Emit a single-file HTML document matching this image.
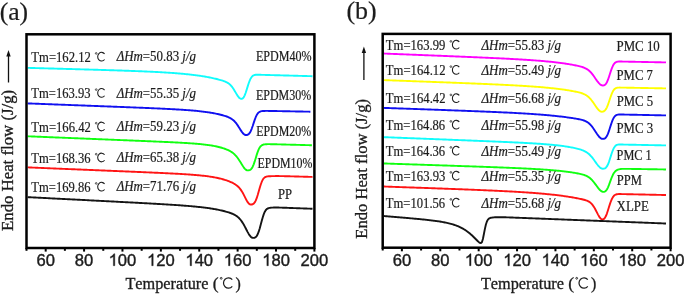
<!DOCTYPE html>
<html><head><meta charset="utf-8"><style>
html,body{margin:0;padding:0;background:#fff;}
body{width:685px;height:294px;overflow:hidden;}
svg{display:block;will-change:transform;}
text{font-family:"Liberation Serif",serif;fill:#1c1c1c;stroke:#1c1c1c;stroke-width:0.2px;font-kerning:none;}
text.t{stroke-width:0.32px;}
text.a{font-family:"Liberation Sans",sans-serif;stroke-width:0.4px;}
</style></head><body>
<svg width="685" height="294" viewBox="0 0 685 294" xmlns="http://www.w3.org/2000/svg">
<rect width="685" height="294" fill="#fff"/>

<text x="-0.33" y="20.10" style="font-size:24.50px" textLength="28.45" lengthAdjust="spacingAndGlyphs">(a)</text>
<path d="M27.7,67.87L28.7,67.89L29.7,67.92L30.7,67.95L31.7,67.97L32.7,68.00L33.7,68.03L34.7,68.06L35.7,68.08L36.7,68.11L37.7,68.14L38.7,68.16L39.7,68.19L40.7,68.22L41.7,68.25L42.7,68.27L43.7,68.30L44.7,68.33L45.7,68.36L46.7,68.38L47.7,68.41L48.7,68.44L49.7,68.46L50.7,68.49L51.7,68.52L52.7,68.55L53.7,68.57L54.7,68.60L55.7,68.63L56.7,68.66L57.7,68.68L58.7,68.71L59.7,68.74L60.7,68.77L61.7,68.79L62.7,68.82L63.7,68.85L64.7,68.88L65.7,68.90L66.7,68.93L67.7,68.96L68.7,68.99L69.7,69.02L70.7,69.04L71.7,69.07L72.7,69.10L73.7,69.13L74.7,69.16L75.7,69.18L76.7,69.21L77.7,69.24L78.7,69.27L79.7,69.30L80.7,69.33L81.7,69.35L82.7,69.38L83.7,69.41L84.7,69.44L85.7,69.47L86.7,69.50L87.7,69.53L88.7,69.55L89.7,69.58L90.7,69.61L91.7,69.64L92.7,69.67L93.7,69.70L94.7,69.73L95.7,69.76L96.7,69.79L97.7,69.82L98.7,69.85L99.7,69.88L100.7,69.91L101.7,69.94L102.7,69.97L103.7,70.00L104.7,70.03L105.7,70.06L106.7,70.09L107.7,70.12L108.7,70.15L109.7,70.18L110.7,70.22L111.7,70.25L112.7,70.28L113.7,70.31L114.7,70.34L115.7,70.38L116.7,70.41L117.7,70.44L118.7,70.47L119.7,70.51L120.7,70.54L121.7,70.57L122.7,70.61L123.7,70.64L124.7,70.68L125.7,70.71L126.7,70.75L127.7,70.78L128.7,70.82L129.7,70.85L130.7,70.89L131.7,70.93L132.7,70.96L133.7,71.00L134.7,71.04L135.7,71.08L136.7,71.12L137.7,71.16L138.7,71.20L139.7,71.24L140.7,71.28L141.7,71.32L142.7,71.36L143.7,71.40L144.7,71.44L145.7,71.49L146.7,71.53L147.7,71.58L148.7,71.62L149.7,71.67L150.7,71.71L151.7,71.76L152.7,71.81L153.7,71.86L154.7,71.91L155.7,71.96L156.7,72.01L157.7,72.06L158.7,72.12L159.7,72.17L160.7,72.23L161.7,72.28L162.7,72.34L163.7,72.40L164.7,72.46L165.7,72.52L166.7,72.58L167.7,72.65L168.7,72.71L169.7,72.78L170.7,72.84L171.7,72.91L172.7,72.99L173.7,73.06L174.7,73.13L175.7,73.21L176.7,73.29L177.7,73.37L178.7,73.45L179.7,73.53L180.7,73.62L181.7,73.71L182.7,73.80L183.7,73.89L184.7,73.98L185.7,74.08L186.7,74.18L187.7,74.28L188.7,74.39L189.7,74.50L190.7,74.61L191.7,74.73L192.7,74.84L193.7,74.97L194.7,75.09L195.7,75.22L196.7,75.35L197.7,75.49L198.7,75.63L199.7,75.77L200.7,75.92L201.7,76.07L202.7,76.23L203.7,76.40L204.7,76.56L205.7,76.74L206.7,76.91L207.7,77.10L208.7,77.29L209.7,77.48L210.7,77.68L211.7,77.89L212.7,78.11L213.7,78.33L214.7,78.56L215.7,78.79L216.7,79.03L217.7,79.29L218.7,79.55L219.7,79.81L220.7,80.09L221.7,80.39L222.7,80.70L223.7,81.04L224.7,81.40L225.7,81.82L226.7,82.29L227.7,82.85L228.7,83.52L229.7,84.32L230.7,85.28L231.7,86.43L232.7,87.75L233.7,89.25L234.7,90.89L235.7,92.61L236.7,94.32L237.7,95.91L238.7,97.26L239.7,98.25L240.7,98.78L241.7,98.84L242.7,98.42L243.7,97.27L244.7,95.34L245.7,92.73L246.7,89.64L247.7,86.39L248.7,83.28L249.7,80.59L250.7,78.45L251.7,76.91L252.7,75.89L253.7,75.28L254.7,74.95L255.7,74.80L256.7,74.75L257.7,74.74L258.7,74.76L259.7,74.78L260.7,74.80L261.7,74.83L262.7,74.86L263.7,74.89L264.7,74.91L265.7,74.94L266.7,74.97L267.7,74.99L268.7,75.02L269.7,75.05L270.7,75.08L271.7,75.10L272.7,75.13L273.7,75.16L274.7,75.18L275.7,75.21L276.7,75.24L277.7,75.27L278.7,75.29L279.7,75.32L280.7,75.35L281.7,75.37L282.7,75.40L283.7,75.43L284.7,75.46L285.7,75.48L286.7,75.51L287.7,75.54L288.7,75.56L289.7,75.59L290.7,75.62L291.7,75.65L292.7,75.67L293.7,75.70L294.7,75.73L295.7,75.75L296.7,75.78L297.7,75.81L298.7,75.84L299.7,75.86L300.7,75.89L301.7,75.92L302.7,75.94L303.7,75.97L304.7,76.00L305.7,76.03L306.7,76.05L307.7,76.08L308.7,76.11L309.7,76.13L310.7,76.16L311.7,76.19L312.5,76.21" fill="none" stroke="#10fcfc" stroke-width="1.90" stroke-linejoin="round"/>
<path d="M27.7,103.41L28.7,103.45L29.7,103.48L30.7,103.52L31.7,103.56L32.7,103.60L33.7,103.64L34.7,103.67L35.7,103.71L36.7,103.75L37.7,103.79L38.7,103.82L39.7,103.86L40.7,103.90L41.7,103.94L42.7,103.98L43.7,104.01L44.7,104.05L45.7,104.09L46.7,104.13L47.7,104.17L48.7,104.20L49.7,104.24L50.7,104.28L51.7,104.32L52.7,104.35L53.7,104.39L54.7,104.43L55.7,104.47L56.7,104.51L57.7,104.54L58.7,104.58L59.7,104.62L60.7,104.66L61.7,104.70L62.7,104.73L63.7,104.77L64.7,104.81L65.7,104.85L66.7,104.89L67.7,104.92L68.7,104.96L69.7,105.00L70.7,105.04L71.7,105.08L72.7,105.11L73.7,105.15L74.7,105.19L75.7,105.23L76.7,105.27L77.7,105.30L78.7,105.34L79.7,105.38L80.7,105.42L81.7,105.45L82.7,105.49L83.7,105.53L84.7,105.57L85.7,105.61L86.7,105.64L87.7,105.68L88.7,105.72L89.7,105.76L90.7,105.80L91.7,105.84L92.7,105.87L93.7,105.91L94.7,105.95L95.7,105.99L96.7,106.03L97.7,106.06L98.7,106.10L99.7,106.14L100.7,106.18L101.7,106.22L102.7,106.25L103.7,106.29L104.7,106.33L105.7,106.37L106.7,106.41L107.7,106.45L108.7,106.48L109.7,106.52L110.7,106.56L111.7,106.60L112.7,106.64L113.7,106.68L114.7,106.72L115.7,106.75L116.7,106.79L117.7,106.83L118.7,106.87L119.7,106.91L120.7,106.95L121.7,106.99L122.7,107.03L123.7,107.07L124.7,107.10L125.7,107.14L126.7,107.18L127.7,107.22L128.7,107.26L129.7,107.30L130.7,107.34L131.7,107.38L132.7,107.42L133.7,107.46L134.7,107.50L135.7,107.54L136.7,107.58L137.7,107.62L138.7,107.66L139.7,107.70L140.7,107.74L141.7,107.78L142.7,107.82L143.7,107.87L144.7,107.91L145.7,107.95L146.7,107.99L147.7,108.03L148.7,108.07L149.7,108.12L150.7,108.16L151.7,108.20L152.7,108.25L153.7,108.29L154.7,108.33L155.7,108.38L156.7,108.42L157.7,108.47L158.7,108.51L159.7,108.56L160.7,108.61L161.7,108.65L162.7,108.70L163.7,108.75L164.7,108.80L165.7,108.84L166.7,108.89L167.7,108.94L168.7,109.00L169.7,109.05L170.7,109.10L171.7,109.15L172.7,109.21L173.7,109.26L174.7,109.32L175.7,109.37L176.7,109.43L177.7,109.49L178.7,109.55L179.7,109.61L180.7,109.67L181.7,109.74L182.7,109.80L183.7,109.87L184.7,109.94L185.7,110.01L186.7,110.08L187.7,110.15L188.7,110.23L189.7,110.31L190.7,110.39L191.7,110.47L192.7,110.55L193.7,110.64L194.7,110.73L195.7,110.82L196.7,110.92L197.7,111.02L198.7,111.12L199.7,111.23L200.7,111.34L201.7,111.45L202.7,111.57L203.7,111.69L204.7,111.82L205.7,111.95L206.7,112.09L207.7,112.23L208.7,112.38L209.7,112.53L210.7,112.69L211.7,112.86L212.7,113.03L213.7,113.21L214.7,113.40L215.7,113.60L216.7,113.81L217.7,114.02L218.7,114.25L219.7,114.48L220.7,114.73L221.7,114.98L222.7,115.26L223.7,115.54L224.7,115.84L225.7,116.16L226.7,116.51L227.7,116.89L228.7,117.31L229.7,117.78L230.7,118.32L231.7,118.94L232.7,119.67L233.7,120.52L234.7,121.51L235.7,122.66L236.7,123.95L237.7,125.38L238.7,126.92L239.7,128.53L240.7,130.13L241.7,131.64L242.7,132.98L243.7,134.03L244.7,134.72L245.7,134.95L246.7,134.95L247.7,134.74L248.7,134.13L249.7,132.98L250.7,131.20L251.7,128.81L252.7,125.95L253.7,122.87L254.7,119.87L255.7,117.21L256.7,115.08L257.7,113.51L258.7,112.46L259.7,111.80L260.7,111.40L261.7,111.18L262.7,111.05L263.7,110.98L264.7,110.94L265.7,110.92L266.7,110.92L267.7,110.92L268.7,110.93L269.7,110.95L270.7,110.96L271.7,110.98L272.7,111.00L273.7,111.02L274.7,111.03L275.7,111.05L276.7,111.07L277.7,111.09L278.7,111.11L279.7,111.13L280.7,111.15L281.7,111.16L282.7,111.18L283.7,111.20L284.7,111.22L285.7,111.24L286.7,111.26L287.7,111.28L288.7,111.30L289.7,111.32L290.7,111.33L291.7,111.35L292.7,111.37L293.7,111.39L294.7,111.41L295.7,111.43L296.7,111.45L297.7,111.47L298.7,111.48L299.7,111.50L300.7,111.52L301.7,111.54L302.7,111.56L303.7,111.58L304.7,111.60L305.7,111.62L306.7,111.63L307.7,111.65L308.7,111.67L309.7,111.69L310.4,111.70" fill="none" stroke="#1010f0" stroke-width="1.90" stroke-linejoin="round"/>
<path d="M27.7,136.29L28.7,136.33L29.7,136.37L30.7,136.41L31.7,136.45L32.7,136.49L33.7,136.53L34.7,136.57L35.7,136.61L36.7,136.65L37.7,136.70L38.7,136.74L39.7,136.78L40.7,136.82L41.7,136.86L42.7,136.90L43.7,136.94L44.7,136.98L45.7,137.02L46.7,137.06L47.7,137.10L48.7,137.14L49.7,137.18L50.7,137.22L51.7,137.27L52.7,137.31L53.7,137.35L54.7,137.39L55.7,137.43L56.7,137.47L57.7,137.51L58.7,137.55L59.7,137.59L60.7,137.63L61.7,137.67L62.7,137.71L63.7,137.75L64.7,137.79L65.7,137.84L66.7,137.88L67.7,137.92L68.7,137.96L69.7,138.00L70.7,138.04L71.7,138.08L72.7,138.12L73.7,138.16L74.7,138.20L75.7,138.24L76.7,138.28L77.7,138.32L78.7,138.36L79.7,138.41L80.7,138.45L81.7,138.49L82.7,138.53L83.7,138.57L84.7,138.61L85.7,138.65L86.7,138.69L87.7,138.73L88.7,138.77L89.7,138.81L90.7,138.85L91.7,138.89L92.7,138.94L93.7,138.98L94.7,139.02L95.7,139.06L96.7,139.10L97.7,139.14L98.7,139.18L99.7,139.22L100.7,139.26L101.7,139.30L102.7,139.34L103.7,139.38L104.7,139.42L105.7,139.46L106.7,139.51L107.7,139.55L108.7,139.59L109.7,139.63L110.7,139.67L111.7,139.71L112.7,139.75L113.7,139.79L114.7,139.83L115.7,139.87L116.7,139.91L117.7,139.95L118.7,140.00L119.7,140.04L120.7,140.08L121.7,140.12L122.7,140.16L123.7,140.20L124.7,140.24L125.7,140.28L126.7,140.32L127.7,140.36L128.7,140.41L129.7,140.45L130.7,140.49L131.7,140.53L132.7,140.57L133.7,140.61L134.7,140.65L135.7,140.69L136.7,140.74L137.7,140.78L138.7,140.82L139.7,140.86L140.7,140.90L141.7,140.94L142.7,140.98L143.7,141.03L144.7,141.07L145.7,141.11L146.7,141.15L147.7,141.19L148.7,141.24L149.7,141.28L150.7,141.32L151.7,141.36L152.7,141.41L153.7,141.45L154.7,141.49L155.7,141.53L156.7,141.58L157.7,141.62L158.7,141.66L159.7,141.71L160.7,141.75L161.7,141.80L162.7,141.84L163.7,141.89L164.7,141.93L165.7,141.98L166.7,142.02L167.7,142.07L168.7,142.12L169.7,142.16L170.7,142.21L171.7,142.26L172.7,142.31L173.7,142.36L174.7,142.40L175.7,142.46L176.7,142.51L177.7,142.56L178.7,142.61L179.7,142.66L180.7,142.72L181.7,142.77L182.7,142.83L183.7,142.89L184.7,142.95L185.7,143.01L186.7,143.07L187.7,143.13L188.7,143.20L189.7,143.26L190.7,143.33L191.7,143.40L192.7,143.47L193.7,143.55L194.7,143.63L195.7,143.71L196.7,143.79L197.7,143.88L198.7,143.97L199.7,144.06L200.7,144.15L201.7,144.26L202.7,144.36L203.7,144.47L204.7,144.58L205.7,144.71L206.7,144.83L207.7,144.96L208.7,145.10L209.7,145.25L210.7,145.40L211.7,145.56L212.7,145.73L213.7,145.91L214.7,146.10L215.7,146.30L216.7,146.51L217.7,146.74L218.7,146.98L219.7,147.23L220.7,147.50L221.7,147.78L222.7,148.08L223.7,148.40L224.7,148.74L225.7,149.11L226.7,149.51L227.7,149.93L228.7,150.40L229.7,150.91L230.7,151.48L231.7,152.11L232.7,152.82L233.7,153.63L234.7,154.54L235.7,155.58L236.7,156.74L237.7,158.03L238.7,159.45L239.7,160.97L240.7,162.57L241.7,164.20L242.7,165.81L243.7,167.31L244.7,168.61L245.7,169.61L246.7,170.19L247.7,170.33L248.7,170.31L249.7,170.10L250.7,169.53L251.7,168.43L252.7,166.70L253.7,164.33L254.7,161.41L255.7,158.17L256.7,154.89L257.7,151.89L258.7,149.40L259.7,147.51L260.7,146.20L261.7,145.36L262.7,144.84L263.7,144.53L264.7,144.35L265.7,144.24L266.7,144.19L267.7,144.16L268.7,144.16L269.7,144.16L270.7,144.18L271.7,144.20L272.7,144.22L273.7,144.24L274.7,144.27L275.7,144.29L276.7,144.32L277.7,144.34L278.7,144.37L279.7,144.39L280.7,144.42L281.7,144.45L282.7,144.47L283.7,144.50L284.7,144.53L285.7,144.55L286.7,144.58L287.7,144.61L288.7,144.63L289.7,144.66L290.7,144.68L291.7,144.71L292.7,144.74L293.7,144.76L294.7,144.79L295.7,144.82L296.7,144.84L297.7,144.87L298.7,144.90L299.7,144.92L300.7,144.95L301.7,144.97L302.7,145.00L303.7,145.03L304.7,145.05L305.7,145.08L306.7,145.11L307.7,145.13L308.7,145.16L309.7,145.19L310.7,145.21L311.7,145.24L311.9,145.24" fill="none" stroke="#10ff10" stroke-width="1.90" stroke-linejoin="round"/>
<path d="M27.7,167.38L28.7,167.42L29.7,167.46L30.7,167.51L31.7,167.55L32.7,167.59L33.7,167.63L34.7,167.67L35.7,167.71L36.7,167.75L37.7,167.79L38.7,167.84L39.7,167.88L40.7,167.92L41.7,167.96L42.7,168.00L43.7,168.04L44.7,168.08L45.7,168.13L46.7,168.17L47.7,168.21L48.7,168.25L49.7,168.29L50.7,168.33L51.7,168.37L52.7,168.41L53.7,168.46L54.7,168.50L55.7,168.54L56.7,168.58L57.7,168.62L58.7,168.66L59.7,168.70L60.7,168.75L61.7,168.79L62.7,168.83L63.7,168.87L64.7,168.91L65.7,168.95L66.7,168.99L67.7,169.03L68.7,169.08L69.7,169.12L70.7,169.16L71.7,169.20L72.7,169.24L73.7,169.28L74.7,169.32L75.7,169.37L76.7,169.41L77.7,169.45L78.7,169.49L79.7,169.53L80.7,169.57L81.7,169.61L82.7,169.66L83.7,169.70L84.7,169.74L85.7,169.78L86.7,169.82L87.7,169.86L88.7,169.90L89.7,169.94L90.7,169.99L91.7,170.03L92.7,170.07L93.7,170.11L94.7,170.15L95.7,170.19L96.7,170.23L97.7,170.28L98.7,170.32L99.7,170.36L100.7,170.40L101.7,170.44L102.7,170.48L103.7,170.52L104.7,170.57L105.7,170.61L106.7,170.65L107.7,170.69L108.7,170.73L109.7,170.77L110.7,170.81L111.7,170.86L112.7,170.90L113.7,170.94L114.7,170.98L115.7,171.02L116.7,171.06L117.7,171.11L118.7,171.15L119.7,171.19L120.7,171.23L121.7,171.27L122.7,171.31L123.7,171.36L124.7,171.40L125.7,171.44L126.7,171.48L127.7,171.52L128.7,171.57L129.7,171.61L130.7,171.65L131.7,171.69L132.7,171.73L133.7,171.78L134.7,171.82L135.7,171.86L136.7,171.90L137.7,171.94L138.7,171.99L139.7,172.03L140.7,172.07L141.7,172.12L142.7,172.16L143.7,172.20L144.7,172.24L145.7,172.29L146.7,172.33L147.7,172.37L148.7,172.42L149.7,172.46L150.7,172.50L151.7,172.55L152.7,172.59L153.7,172.64L154.7,172.68L155.7,172.73L156.7,172.77L157.7,172.82L158.7,172.86L159.7,172.91L160.7,172.95L161.7,173.00L162.7,173.05L163.7,173.09L164.7,173.14L165.7,173.19L166.7,173.24L167.7,173.28L168.7,173.33L169.7,173.38L170.7,173.43L171.7,173.48L172.7,173.53L173.7,173.59L174.7,173.64L175.7,173.69L176.7,173.75L177.7,173.80L178.7,173.86L179.7,173.91L180.7,173.97L181.7,174.03L182.7,174.09L183.7,174.15L184.7,174.21L185.7,174.28L186.7,174.34L187.7,174.41L188.7,174.48L189.7,174.55L190.7,174.62L191.7,174.69L192.7,174.77L193.7,174.85L194.7,174.93L195.7,175.01L196.7,175.10L197.7,175.19L198.7,175.28L199.7,175.38L200.7,175.48L201.7,175.58L202.7,175.69L203.7,175.80L204.7,175.91L205.7,176.03L206.7,176.16L207.7,176.29L208.7,176.43L209.7,176.57L210.7,176.72L211.7,176.88L212.7,177.04L213.7,177.22L214.7,177.40L215.7,177.59L216.7,177.79L217.7,178.00L218.7,178.22L219.7,178.45L220.7,178.69L221.7,178.95L222.7,179.22L223.7,179.51L224.7,179.81L225.7,180.13L226.7,180.47L227.7,180.82L228.7,181.20L229.7,181.60L230.7,182.02L231.7,182.47L232.7,182.95L233.7,183.48L234.7,184.05L235.7,184.70L236.7,185.42L237.7,186.25L238.7,187.21L239.7,188.33L240.7,189.63L241.7,191.12L242.7,192.80L243.7,194.64L244.7,196.59L245.7,198.57L246.7,200.47L247.7,202.15L248.7,203.46L249.7,204.26L250.7,204.47L251.7,204.45L252.7,204.23L253.7,203.63L254.7,202.48L255.7,200.66L256.7,198.17L257.7,195.08L258.7,191.61L259.7,188.07L260.7,184.77L261.7,181.97L262.7,179.82L263.7,178.33L264.7,177.39L265.7,176.85L266.7,176.56L267.7,176.41L268.7,176.31L269.7,176.25L270.7,176.20L271.7,176.15L272.7,176.12L273.7,176.10L274.7,176.08L275.7,176.07L276.7,176.06L277.7,176.07L278.7,176.07L279.7,176.08L280.7,176.10L281.7,176.11L282.7,176.13L283.7,176.15L284.7,176.18L285.7,176.20L286.7,176.23L287.7,176.25L288.7,176.28L289.7,176.30L290.7,176.33L291.7,176.36L292.7,176.38L293.7,176.41L294.7,176.44L295.7,176.47L296.7,176.50L297.7,176.52L298.7,176.55L299.7,176.58L300.7,176.61L301.7,176.64L302.7,176.66L303.7,176.69L304.7,176.72L305.7,176.75L306.7,176.78L307.7,176.81L308.7,176.83L309.7,176.86L310.7,176.89L311.7,176.92L312.5,176.94" fill="none" stroke="#ff1414" stroke-width="1.90" stroke-linejoin="round"/>
<path d="M27.7,197.15L28.7,197.20L29.7,197.25L30.7,197.30L31.7,197.35L32.7,197.40L33.7,197.46L34.7,197.51L35.7,197.56L36.7,197.61L37.7,197.66L38.7,197.71L39.7,197.76L40.7,197.81L41.7,197.87L42.7,197.92L43.7,197.97L44.7,198.02L45.7,198.07L46.7,198.12L47.7,198.17L48.7,198.22L49.7,198.28L50.7,198.33L51.7,198.38L52.7,198.43L53.7,198.48L54.7,198.53L55.7,198.58L56.7,198.63L57.7,198.69L58.7,198.74L59.7,198.79L60.7,198.84L61.7,198.89L62.7,198.94L63.7,198.99L64.7,199.04L65.7,199.10L66.7,199.15L67.7,199.20L68.7,199.25L69.7,199.30L70.7,199.35L71.7,199.40L72.7,199.45L73.7,199.51L74.7,199.56L75.7,199.61L76.7,199.66L77.7,199.71L78.7,199.76L79.7,199.81L80.7,199.87L81.7,199.92L82.7,199.97L83.7,200.02L84.7,200.07L85.7,200.12L86.7,200.17L87.7,200.22L88.7,200.28L89.7,200.33L90.7,200.38L91.7,200.43L92.7,200.48L93.7,200.53L94.7,200.58L95.7,200.64L96.7,200.69L97.7,200.74L98.7,200.79L99.7,200.84L100.7,200.89L101.7,200.95L102.7,201.00L103.7,201.05L104.7,201.10L105.7,201.15L106.7,201.20L107.7,201.25L108.7,201.31L109.7,201.36L110.7,201.41L111.7,201.46L112.7,201.51L113.7,201.57L114.7,201.62L115.7,201.67L116.7,201.72L117.7,201.77L118.7,201.83L119.7,201.88L120.7,201.93L121.7,201.98L122.7,202.03L123.7,202.09L124.7,202.14L125.7,202.19L126.7,202.24L127.7,202.30L128.7,202.35L129.7,202.40L130.7,202.45L131.7,202.51L132.7,202.56L133.7,202.61L134.7,202.66L135.7,202.72L136.7,202.77L137.7,202.82L138.7,202.88L139.7,202.93L140.7,202.99L141.7,203.04L142.7,203.09L143.7,203.15L144.7,203.20L145.7,203.26L146.7,203.31L147.7,203.37L148.7,203.42L149.7,203.48L150.7,203.53L151.7,203.59L152.7,203.64L153.7,203.70L154.7,203.76L155.7,203.81L156.7,203.87L157.7,203.93L158.7,203.98L159.7,204.04L160.7,204.10L161.7,204.16L162.7,204.22L163.7,204.28L164.7,204.34L165.7,204.40L166.7,204.46L167.7,204.52L168.7,204.58L169.7,204.65L170.7,204.71L171.7,204.77L172.7,204.84L173.7,204.90L174.7,204.97L175.7,205.04L176.7,205.10L177.7,205.17L178.7,205.24L179.7,205.31L180.7,205.38L181.7,205.46L182.7,205.53L183.7,205.61L184.7,205.68L185.7,205.76L186.7,205.84L187.7,205.92L188.7,206.00L189.7,206.09L190.7,206.17L191.7,206.26L192.7,206.35L193.7,206.44L194.7,206.54L195.7,206.63L196.7,206.73L197.7,206.83L198.7,206.94L199.7,207.04L200.7,207.15L201.7,207.27L202.7,207.38L203.7,207.50L204.7,207.63L205.7,207.75L206.7,207.88L207.7,208.02L208.7,208.16L209.7,208.31L210.7,208.46L211.7,208.61L212.7,208.77L213.7,208.94L214.7,209.11L215.7,209.30L216.7,209.48L217.7,209.68L218.7,209.88L219.7,210.09L220.7,210.31L221.7,210.53L222.7,210.77L223.7,211.02L224.7,211.28L225.7,211.55L226.7,211.83L227.7,212.12L228.7,212.44L229.7,212.77L230.7,213.12L231.7,213.50L232.7,213.91L233.7,214.37L234.7,214.88L235.7,215.46L236.7,216.12L237.7,216.89L238.7,217.78L239.7,218.81L240.7,220.00L241.7,221.36L242.7,222.88L243.7,224.56L244.7,226.38L245.7,228.28L246.7,230.22L247.7,232.12L248.7,233.89L249.7,235.45L250.7,236.69L251.7,237.51L252.7,237.84L253.7,237.86L254.7,237.71L255.7,237.17L256.7,236.07L257.7,234.27L258.7,231.71L259.7,228.49L260.7,224.81L261.7,221.00L262.7,217.42L263.7,214.34L264.7,211.95L265.7,210.26L266.7,209.16L267.7,208.49L268.7,208.10L269.7,207.87L270.7,207.73L271.7,207.64L272.7,207.58L273.7,207.54L274.7,207.52L275.7,207.52L276.7,207.53L277.7,207.54L278.7,207.56L279.7,207.59L280.7,207.62L281.7,207.65L282.7,207.68L283.7,207.71L284.7,207.75L285.7,207.79L286.7,207.82L287.7,207.86L288.7,207.89L289.7,207.93L290.7,207.97L291.7,208.00L292.7,208.04L293.7,208.08L294.7,208.12L295.7,208.15L296.7,208.19L297.7,208.23L298.7,208.26L299.7,208.30L300.7,208.34L301.7,208.38L302.7,208.41L303.7,208.45L304.7,208.49L305.7,208.52L306.7,208.56L307.7,208.60L308.7,208.63L309.7,208.67L310.7,208.71L311.7,208.75L312.5,208.78" fill="none" stroke="#141414" stroke-width="1.90" stroke-linejoin="round"/>
<rect x="26.50" y="34.30" width="287.90" height="213.70" fill="none" stroke="#000" stroke-width="2.5"/>
<line x1="26.50" y1="248.00" x2="26.50" y2="250.80" stroke="#000" stroke-width="2"/>
<line x1="45.69" y1="248.00" x2="45.69" y2="251.60" stroke="#000" stroke-width="2"/>
<text class="a" x="36.46" y="265.70" style="font-size:16.6px">6</text><text class="a" x="45.69" y="265.70" style="font-size:16.6px">0</text>
<line x1="64.89" y1="248.00" x2="64.89" y2="250.80" stroke="#000" stroke-width="2"/>
<line x1="84.08" y1="248.00" x2="84.08" y2="251.60" stroke="#000" stroke-width="2"/>
<text class="a" x="74.85" y="265.70" style="font-size:16.6px">8</text><text class="a" x="84.08" y="265.70" style="font-size:16.6px">0</text>
<line x1="103.27" y1="248.00" x2="103.27" y2="250.80" stroke="#000" stroke-width="2"/>
<line x1="122.47" y1="248.00" x2="122.47" y2="251.60" stroke="#000" stroke-width="2"/>
<path d="M114.81,265.70 L113.35,265.70 L113.35,256.40 L112.82,256.91 L112.19,257.30 L111.30,257.82 L110.42,258.16 L110.42,256.75 L111.30,256.30 L112.11,255.73 L112.84,255.08 L113.49,254.35 L113.86,253.77 L114.81,253.77 Z" fill="#1c1c1c" stroke="#1c1c1c" stroke-width="0.4"/><text class="a" x="117.85" y="265.70" style="font-size:16.6px">0</text><text class="a" x="127.08" y="265.70" style="font-size:16.6px">0</text>
<line x1="141.66" y1="248.00" x2="141.66" y2="250.80" stroke="#000" stroke-width="2"/>
<line x1="160.85" y1="248.00" x2="160.85" y2="251.60" stroke="#000" stroke-width="2"/>
<path d="M153.19,265.70 L151.73,265.70 L151.73,256.40 L151.21,256.91 L150.58,257.30 L149.68,257.82 L148.81,258.16 L148.81,256.75 L149.68,256.30 L150.49,255.73 L151.22,255.08 L151.87,254.35 L152.25,253.77 L153.19,253.77 Z" fill="#1c1c1c" stroke="#1c1c1c" stroke-width="0.4"/><text class="a" x="156.24" y="265.70" style="font-size:16.6px">2</text><text class="a" x="165.47" y="265.70" style="font-size:16.6px">0</text>
<line x1="180.05" y1="248.00" x2="180.05" y2="250.80" stroke="#000" stroke-width="2"/>
<line x1="199.24" y1="248.00" x2="199.24" y2="251.60" stroke="#000" stroke-width="2"/>
<path d="M191.58,265.70 L190.12,265.70 L190.12,256.40 L189.59,256.91 L188.96,257.30 L188.07,257.82 L187.20,258.16 L187.20,256.75 L188.07,256.30 L188.88,255.73 L189.61,255.08 L190.26,254.35 L190.63,253.77 L191.58,253.77 Z" fill="#1c1c1c" stroke="#1c1c1c" stroke-width="0.4"/><text class="a" x="194.63" y="265.70" style="font-size:16.6px">4</text><text class="a" x="203.85" y="265.70" style="font-size:16.6px">0</text>
<line x1="218.43" y1="248.00" x2="218.43" y2="250.80" stroke="#000" stroke-width="2"/>
<line x1="237.63" y1="248.00" x2="237.63" y2="251.60" stroke="#000" stroke-width="2"/>
<path d="M229.97,265.70 L228.51,265.70 L228.51,256.40 L227.98,256.91 L227.35,257.30 L226.46,257.82 L225.58,258.16 L225.58,256.75 L226.46,256.30 L227.27,255.73 L228.00,255.08 L228.65,254.35 L229.02,253.77 L229.97,253.77 Z" fill="#1c1c1c" stroke="#1c1c1c" stroke-width="0.4"/><text class="a" x="233.01" y="265.70" style="font-size:16.6px">6</text><text class="a" x="242.24" y="265.70" style="font-size:16.6px">0</text>
<line x1="256.82" y1="248.00" x2="256.82" y2="250.80" stroke="#000" stroke-width="2"/>
<line x1="276.01" y1="248.00" x2="276.01" y2="251.60" stroke="#000" stroke-width="2"/>
<path d="M268.35,265.70 L266.89,265.70 L266.89,256.40 L266.37,256.91 L265.74,257.30 L264.84,257.82 L263.97,258.16 L263.97,256.75 L264.84,256.30 L265.65,255.73 L266.38,255.08 L267.03,254.35 L267.41,253.77 L268.35,253.77 Z" fill="#1c1c1c" stroke="#1c1c1c" stroke-width="0.4"/><text class="a" x="271.40" y="265.70" style="font-size:16.6px">8</text><text class="a" x="280.63" y="265.70" style="font-size:16.6px">0</text>
<line x1="295.21" y1="248.00" x2="295.21" y2="250.80" stroke="#000" stroke-width="2"/>
<line x1="314.40" y1="248.00" x2="314.40" y2="251.60" stroke="#000" stroke-width="2"/>
<text class="a" x="300.56" y="265.70" style="font-size:16.6px">2</text><text class="a" x="309.79" y="265.70" style="font-size:16.6px">0</text><text class="a" x="319.01" y="265.70" style="font-size:16.6px">0</text>
<text x="31.37" y="61.80" style="font-size:13.60px" textLength="59.43" lengthAdjust="spacingAndGlyphs">Tm=162.12</text>
<circle cx="96.20" cy="53.40" r="0.85" fill="none" stroke="#1c1c1c" stroke-width="0.75"/><path d="M104.58,53.90 A3.90,4.35 0 1 0 104.58,59.50" fill="none" stroke="#1c1c1c" stroke-width="1.05"/>
<text x="116.63" y="61.20" style="font-size:13.60px" textLength="79.35" lengthAdjust="spacingAndGlyphs"><tspan font-style="italic">&#916;Hm</tspan>=50.83 <tspan font-style="italic">j/g</tspan></text>
<text x="31.37" y="98.00" style="font-size:13.60px" textLength="59.22" lengthAdjust="spacingAndGlyphs">Tm=163.93</text>
<circle cx="96.20" cy="89.60" r="0.85" fill="none" stroke="#1c1c1c" stroke-width="0.75"/><path d="M104.58,90.10 A3.90,4.35 0 1 0 104.58,95.70" fill="none" stroke="#1c1c1c" stroke-width="1.05"/>
<text x="116.63" y="97.60" style="font-size:13.60px" textLength="79.35" lengthAdjust="spacingAndGlyphs"><tspan font-style="italic">&#916;Hm</tspan>=55.35 <tspan font-style="italic">j/g</tspan></text>
<text x="31.37" y="131.60" style="font-size:13.60px" textLength="59.43" lengthAdjust="spacingAndGlyphs">Tm=166.42</text>
<circle cx="96.20" cy="123.20" r="0.85" fill="none" stroke="#1c1c1c" stroke-width="0.75"/><path d="M104.58,123.70 A3.90,4.35 0 1 0 104.58,129.30" fill="none" stroke="#1c1c1c" stroke-width="1.05"/>
<text x="116.63" y="131.10" style="font-size:13.60px" textLength="79.35" lengthAdjust="spacingAndGlyphs"><tspan font-style="italic">&#916;Hm</tspan>=59.23 <tspan font-style="italic">j/g</tspan></text>
<text x="31.37" y="162.60" style="font-size:13.60px" textLength="59.10" lengthAdjust="spacingAndGlyphs">Tm=168.36</text>
<circle cx="96.20" cy="154.20" r="0.85" fill="none" stroke="#1c1c1c" stroke-width="0.75"/><path d="M104.58,154.70 A3.90,4.35 0 1 0 104.58,160.30" fill="none" stroke="#1c1c1c" stroke-width="1.05"/>
<text x="116.63" y="162.10" style="font-size:13.60px" textLength="79.35" lengthAdjust="spacingAndGlyphs"><tspan font-style="italic">&#916;Hm</tspan>=65.38 <tspan font-style="italic">j/g</tspan></text>
<text x="31.37" y="191.80" style="font-size:13.60px" textLength="59.10" lengthAdjust="spacingAndGlyphs">Tm=169.86</text>
<circle cx="96.20" cy="183.40" r="0.85" fill="none" stroke="#1c1c1c" stroke-width="0.75"/><path d="M104.58,183.90 A3.90,4.35 0 1 0 104.58,189.50" fill="none" stroke="#1c1c1c" stroke-width="1.05"/>
<text x="116.63" y="191.30" style="font-size:13.60px" textLength="79.35" lengthAdjust="spacingAndGlyphs"><tspan font-style="italic">&#916;Hm</tspan>=71.76 <tspan font-style="italic">j/g</tspan></text>
<text x="255.95" y="60.70" style="font-size:13.60px" textLength="55.66" lengthAdjust="spacingAndGlyphs">EPDM40%</text>
<text x="255.95" y="99.80" style="font-size:13.60px" textLength="55.25" lengthAdjust="spacingAndGlyphs">EPDM30%</text>
<text x="256.16" y="135.60" style="font-size:13.60px" textLength="55.05" lengthAdjust="spacingAndGlyphs">EPDM20%</text>
<text x="257.56" y="167.80" style="font-size:13.60px" textLength="54.85" lengthAdjust="spacingAndGlyphs">EPDM10%</text>
<text x="277.94" y="199.30" style="font-size:13.60px" textLength="14.07" lengthAdjust="spacingAndGlyphs">PP</text>
<text class="t" x="125.41" y="288.70" style="font-size:16.50px" textLength="83.06" lengthAdjust="spacingAndGlyphs">Temperature</text>
<text class="t" x="212.73" y="288.70" style="font-size:16.50px" textLength="5.83" lengthAdjust="spacingAndGlyphs">(</text>
<circle cx="221.20" cy="278.30" r="0.90" fill="none" stroke="#1c1c1c" stroke-width="0.90"/><path d="M232.28,279.60 A5.00,5.20 0 1 0 232.28,286.40" fill="none" stroke="#1c1c1c" stroke-width="1.20"/>
<text class="t" x="235.39" y="288.70" style="font-size:16.50px" textLength="5.32" lengthAdjust="spacingAndGlyphs">)</text>
<line x1="8.50" y1="82.50" x2="8.50" y2="54.90" stroke="#111" stroke-width="1.3"/>
<path d="M8.50,49.90 L6.30,56.40 L10.70,56.40 Z" fill="#111"/>
<text transform="translate(13.00,0) rotate(-90)" class="t" x="-230.98" y="0.00" style="font-size:16.50px" textLength="141.12" lengthAdjust="spacingAndGlyphs">Endo Heat flow (J/g)</text>
<text x="346.46" y="19.00" style="font-size:24.50px" textLength="30.28" lengthAdjust="spacingAndGlyphs">(b)</text>
<path d="M383.9,53.55L384.9,53.59L385.9,53.63L386.9,53.67L387.9,53.71L388.9,53.75L389.9,53.79L390.9,53.83L391.9,53.87L392.9,53.91L393.9,53.95L394.9,53.99L395.9,54.03L396.9,54.07L397.9,54.11L398.9,54.14L399.9,54.18L400.9,54.22L401.9,54.26L402.9,54.30L403.9,54.34L404.9,54.38L405.9,54.42L406.9,54.46L407.9,54.50L408.9,54.54L409.9,54.58L410.9,54.62L411.9,54.66L412.9,54.70L413.9,54.74L414.9,54.78L415.9,54.82L416.9,54.86L417.9,54.90L418.9,54.94L419.9,54.98L420.9,55.02L421.9,55.06L422.9,55.10L423.9,55.14L424.9,55.18L425.9,55.22L426.9,55.26L427.9,55.30L428.9,55.34L429.9,55.38L430.9,55.42L431.9,55.46L432.9,55.50L433.9,55.54L434.9,55.58L435.9,55.62L436.9,55.66L437.9,55.70L438.9,55.74L439.9,55.78L440.9,55.82L441.9,55.86L442.9,55.90L443.9,55.94L444.9,55.98L445.9,56.02L446.9,56.06L447.9,56.11L448.9,56.15L449.9,56.19L450.9,56.23L451.9,56.27L452.9,56.31L453.9,56.35L454.9,56.39L455.9,56.43L456.9,56.47L457.9,56.52L458.9,56.56L459.9,56.60L460.9,56.64L461.9,56.68L462.9,56.72L463.9,56.76L464.9,56.81L465.9,56.85L466.9,56.89L467.9,56.93L468.9,56.97L469.9,57.02L470.9,57.06L471.9,57.10L472.9,57.15L473.9,57.19L474.9,57.23L475.9,57.27L476.9,57.32L477.9,57.36L478.9,57.40L479.9,57.45L480.9,57.49L481.9,57.54L482.9,57.58L483.9,57.62L484.9,57.67L485.9,57.71L486.9,57.76L487.9,57.80L488.9,57.85L489.9,57.90L490.9,57.94L491.9,57.99L492.9,58.03L493.9,58.08L494.9,58.13L495.9,58.17L496.9,58.22L497.9,58.27L498.9,58.32L499.9,58.37L500.9,58.42L501.9,58.46L502.9,58.51L503.9,58.56L504.9,58.62L505.9,58.67L506.9,58.72L507.9,58.77L508.9,58.82L509.9,58.87L510.9,58.93L511.9,58.98L512.9,59.04L513.9,59.09L514.9,59.15L515.9,59.20L516.9,59.26L517.9,59.32L518.9,59.37L519.9,59.43L520.9,59.49L521.9,59.55L522.9,59.61L523.9,59.68L524.9,59.74L525.9,59.80L526.9,59.87L527.9,59.93L528.9,60.00L529.9,60.07L530.9,60.14L531.9,60.21L532.9,60.28L533.9,60.35L534.9,60.42L535.9,60.50L536.9,60.58L537.9,60.65L538.9,60.73L539.9,60.81L540.9,60.90L541.9,60.98L542.9,61.07L543.9,61.15L544.9,61.24L545.9,61.33L546.9,61.43L547.9,61.52L548.9,61.62L549.9,61.72L550.9,61.82L551.9,61.93L552.9,62.03L553.9,62.14L554.9,62.25L555.9,62.37L556.9,62.49L557.9,62.61L558.9,62.73L559.9,62.86L560.9,62.99L561.9,63.12L562.9,63.26L563.9,63.40L564.9,63.55L565.9,63.70L566.9,63.85L567.9,64.01L568.9,64.17L569.9,64.34L570.9,64.51L571.9,64.69L572.9,64.87L573.9,65.06L574.9,65.25L575.9,65.45L576.9,65.66L577.9,65.88L578.9,66.12L579.9,66.36L580.9,66.63L581.9,66.93L582.9,67.25L583.9,67.62L584.9,68.04L585.9,68.53L586.9,69.11L587.9,69.77L588.9,70.55L589.9,71.46L590.9,72.49L591.9,73.65L592.9,74.92L593.9,76.30L594.9,77.73L595.9,79.19L596.9,80.61L597.9,81.95L598.9,83.14L599.9,84.15L600.9,84.90L601.9,85.34L602.9,85.45L603.9,85.33L604.9,84.88L605.9,83.89L606.9,82.25L607.9,79.95L608.9,77.13L609.9,74.01L610.9,70.90L611.9,68.08L612.9,65.76L613.9,64.03L614.9,62.86L615.9,62.16L616.9,61.79L617.9,61.61L618.9,61.55L619.9,61.54L620.9,61.54L621.9,61.56L622.9,61.58L623.9,61.60L624.9,61.62L625.9,61.64L626.9,61.65L627.9,61.67L628.9,61.69L629.9,61.71L630.9,61.73L631.9,61.75L632.9,61.77L633.9,61.79L634.9,61.81L635.9,61.83L636.9,61.85L637.9,61.87L638.9,61.89L639.9,61.90L640.9,61.92L641.9,61.94L642.9,61.96L643.9,61.98L644.9,62.00L645.9,62.02L646.9,62.04L647.9,62.06L648.9,62.08L649.9,62.10L650.9,62.12L651.9,62.13L652.9,62.15L653.9,62.17L654.9,62.19L655.9,62.21L656.9,62.23L657.9,62.25L658.9,62.27L659.9,62.29L660.9,62.31L661.9,62.33L662.9,62.35L663.9,62.37L664.9,62.38L665.9,62.40L666.0,62.41" fill="none" stroke="#ff00ff" stroke-width="1.90" stroke-linejoin="round"/>
<path d="M383.9,80.10L384.9,80.14L385.9,80.18L386.9,80.22L387.9,80.25L388.9,80.29L389.9,80.33L390.9,80.36L391.9,80.40L392.9,80.44L393.9,80.47L394.9,80.51L395.9,80.55L396.9,80.59L397.9,80.62L398.9,80.66L399.9,80.70L400.9,80.73L401.9,80.77L402.9,80.81L403.9,80.84L404.9,80.88L405.9,80.92L406.9,80.96L407.9,80.99L408.9,81.03L409.9,81.07L410.9,81.10L411.9,81.14L412.9,81.18L413.9,81.22L414.9,81.25L415.9,81.29L416.9,81.33L417.9,81.37L418.9,81.40L419.9,81.44L420.9,81.48L421.9,81.51L422.9,81.55L423.9,81.59L424.9,81.63L425.9,81.66L426.9,81.70L427.9,81.74L428.9,81.78L429.9,81.81L430.9,81.85L431.9,81.89L432.9,81.93L433.9,81.97L434.9,82.00L435.9,82.04L436.9,82.08L437.9,82.12L438.9,82.15L439.9,82.19L440.9,82.23L441.9,82.27L442.9,82.31L443.9,82.34L444.9,82.38L445.9,82.42L446.9,82.46L447.9,82.50L448.9,82.54L449.9,82.57L450.9,82.61L451.9,82.65L452.9,82.69L453.9,82.73L454.9,82.77L455.9,82.81L456.9,82.85L457.9,82.88L458.9,82.92L459.9,82.96L460.9,83.00L461.9,83.04L462.9,83.08L463.9,83.12L464.9,83.16L465.9,83.20L466.9,83.24L467.9,83.28L468.9,83.32L469.9,83.36L470.9,83.40L471.9,83.44L472.9,83.48L473.9,83.52L474.9,83.56L475.9,83.60L476.9,83.65L477.9,83.69L478.9,83.73L479.9,83.77L480.9,83.81L481.9,83.85L482.9,83.90L483.9,83.94L484.9,83.98L485.9,84.02L486.9,84.07L487.9,84.11L488.9,84.16L489.9,84.20L490.9,84.24L491.9,84.29L492.9,84.33L493.9,84.38L494.9,84.42L495.9,84.47L496.9,84.51L497.9,84.56L498.9,84.61L499.9,84.65L500.9,84.70L501.9,84.75L502.9,84.80L503.9,84.85L504.9,84.90L505.9,84.95L506.9,85.00L507.9,85.05L508.9,85.10L509.9,85.15L510.9,85.20L511.9,85.25L512.9,85.31L513.9,85.36L514.9,85.41L515.9,85.47L516.9,85.53L517.9,85.58L518.9,85.64L519.9,85.70L520.9,85.76L521.9,85.82L522.9,85.88L523.9,85.94L524.9,86.00L525.9,86.06L526.9,86.13L527.9,86.19L528.9,86.26L529.9,86.33L530.9,86.39L531.9,86.46L532.9,86.54L533.9,86.61L534.9,86.68L535.9,86.76L536.9,86.83L537.9,86.91L538.9,86.99L539.9,87.07L540.9,87.15L541.9,87.24L542.9,87.32L543.9,87.41L544.9,87.50L545.9,87.59L546.9,87.68L547.9,87.78L548.9,87.88L549.9,87.98L550.9,88.08L551.9,88.18L552.9,88.29L553.9,88.40L554.9,88.51L555.9,88.63L556.9,88.75L557.9,88.87L558.9,88.99L559.9,89.12L560.9,89.25L561.9,89.38L562.9,89.52L563.9,89.66L564.9,89.81L565.9,89.96L566.9,90.11L567.9,90.27L568.9,90.43L569.9,90.60L570.9,90.77L571.9,90.95L572.9,91.13L573.9,91.32L574.9,91.51L575.9,91.72L576.9,91.93L577.9,92.16L578.9,92.40L579.9,92.66L580.9,92.94L581.9,93.26L582.9,93.61L583.9,94.02L584.9,94.50L585.9,95.05L586.9,95.70L587.9,96.46L588.9,97.33L589.9,98.34L590.9,99.47L591.9,100.72L592.9,102.08L593.9,103.52L594.9,105.00L595.9,106.47L596.9,107.89L597.9,109.17L598.9,110.26L599.9,111.08L600.9,111.58L601.9,111.71L602.9,111.59L603.9,111.24L604.9,110.49L605.9,109.20L606.9,107.33L607.9,104.90L608.9,102.05L609.9,99.02L610.9,96.07L611.9,93.45L612.9,91.33L613.9,89.77L614.9,88.73L615.9,88.11L616.9,87.79L617.9,87.64L618.9,87.58L619.9,87.57L620.9,87.58L621.9,87.60L622.9,87.62L623.9,87.63L624.9,87.65L625.9,87.67L626.9,87.69L627.9,87.71L628.9,87.72L629.9,87.74L630.9,87.76L631.9,87.78L632.9,87.80L633.9,87.81L634.9,87.83L635.9,87.85L636.9,87.87L637.9,87.89L638.9,87.90L639.9,87.92L640.9,87.94L641.9,87.96L642.9,87.98L643.9,87.99L644.9,88.01L645.9,88.03L646.9,88.05L647.9,88.07L648.9,88.08L649.9,88.10L650.9,88.12L651.9,88.14L652.9,88.16L653.9,88.17L654.9,88.19L655.9,88.21L656.9,88.23L657.9,88.25L658.9,88.26L659.9,88.28L660.9,88.30L661.9,88.32L662.9,88.34L663.9,88.36L664.9,88.37L665.9,88.39L666.0,88.39" fill="none" stroke="#ffff00" stroke-width="1.90" stroke-linejoin="round"/>
<path d="M383.9,107.90L384.9,107.93L385.9,107.97L386.9,108.00L387.9,108.04L388.9,108.07L389.9,108.11L390.9,108.14L391.9,108.18L392.9,108.21L393.9,108.25L394.9,108.29L395.9,108.32L396.9,108.36L397.9,108.39L398.9,108.43L399.9,108.46L400.9,108.50L401.9,108.53L402.9,108.57L403.9,108.60L404.9,108.64L405.9,108.67L406.9,108.71L407.9,108.74L408.9,108.78L409.9,108.81L410.9,108.85L411.9,108.89L412.9,108.92L413.9,108.96L414.9,108.99L415.9,109.03L416.9,109.06L417.9,109.10L418.9,109.13L419.9,109.17L420.9,109.21L421.9,109.24L422.9,109.28L423.9,109.31L424.9,109.35L425.9,109.38L426.9,109.42L427.9,109.46L428.9,109.49L429.9,109.53L430.9,109.56L431.9,109.60L432.9,109.63L433.9,109.67L434.9,109.71L435.9,109.74L436.9,109.78L437.9,109.81L438.9,109.85L439.9,109.89L440.9,109.92L441.9,109.96L442.9,110.00L443.9,110.03L444.9,110.07L445.9,110.11L446.9,110.14L447.9,110.18L448.9,110.22L449.9,110.25L450.9,110.29L451.9,110.33L452.9,110.36L453.9,110.40L454.9,110.44L455.9,110.47L456.9,110.51L457.9,110.55L458.9,110.59L459.9,110.62L460.9,110.66L461.9,110.70L462.9,110.74L463.9,110.77L464.9,110.81L465.9,110.85L466.9,110.89L467.9,110.93L468.9,110.97L469.9,111.00L470.9,111.04L471.9,111.08L472.9,111.12L473.9,111.16L474.9,111.20L475.9,111.24L476.9,111.28L477.9,111.32L478.9,111.36L479.9,111.40L480.9,111.44L481.9,111.48L482.9,111.52L483.9,111.56L484.9,111.60L485.9,111.64L486.9,111.68L487.9,111.73L488.9,111.77L489.9,111.81L490.9,111.85L491.9,111.89L492.9,111.94L493.9,111.98L494.9,112.02L495.9,112.07L496.9,112.11L497.9,112.16L498.9,112.20L499.9,112.25L500.9,112.29L501.9,112.34L502.9,112.38L503.9,112.43L504.9,112.48L505.9,112.53L506.9,112.57L507.9,112.62L508.9,112.67L509.9,112.72L510.9,112.77L511.9,112.82L512.9,112.87L513.9,112.92L514.9,112.98L515.9,113.03L516.9,113.08L517.9,113.14L518.9,113.19L519.9,113.25L520.9,113.30L521.9,113.36L522.9,113.42L523.9,113.48L524.9,113.54L525.9,113.60L526.9,113.66L527.9,113.72L528.9,113.78L529.9,113.85L530.9,113.91L531.9,113.98L532.9,114.05L533.9,114.11L534.9,114.18L535.9,114.25L536.9,114.33L537.9,114.40L538.9,114.47L539.9,114.55L540.9,114.63L541.9,114.71L542.9,114.79L543.9,114.87L544.9,114.95L545.9,115.04L546.9,115.12L547.9,115.21L548.9,115.30L549.9,115.40L550.9,115.49L551.9,115.59L552.9,115.69L553.9,115.79L554.9,115.89L555.9,115.99L556.9,116.10L557.9,116.21L558.9,116.32L559.9,116.44L560.9,116.56L561.9,116.68L562.9,116.80L563.9,116.92L564.9,117.05L565.9,117.18L566.9,117.32L567.9,117.45L568.9,117.59L569.9,117.74L570.9,117.88L571.9,118.03L572.9,118.18L573.9,118.34L574.9,118.50L575.9,118.67L576.9,118.84L577.9,119.02L578.9,119.21L579.9,119.42L580.9,119.64L581.9,119.89L582.9,120.18L583.9,120.50L584.9,120.89L585.9,121.35L586.9,121.89L587.9,122.54L588.9,123.31L589.9,124.21L590.9,125.25L591.9,126.43L592.9,127.74L593.9,129.17L594.9,130.67L595.9,132.21L596.9,133.74L597.9,135.18L598.9,136.48L599.9,137.56L600.9,138.36L601.9,138.82L602.9,138.92L603.9,138.82L604.9,138.43L605.9,137.54L606.9,136.04L607.9,133.89L608.9,131.17L609.9,128.08L610.9,124.91L611.9,121.94L612.9,119.43L613.9,117.50L614.9,116.16L615.9,115.33L616.9,114.87L617.9,114.65L618.9,114.56L619.9,114.53L620.9,114.53L621.9,114.54L622.9,114.56L623.9,114.57L624.9,114.59L625.9,114.61L626.9,114.62L627.9,114.64L628.9,114.66L629.9,114.68L630.9,114.70L631.9,114.71L632.9,114.73L633.9,114.75L634.9,114.77L635.9,114.79L636.9,114.81L637.9,114.83L638.9,114.85L639.9,114.87L640.9,114.89L641.9,114.91L642.9,114.93L643.9,114.95L644.9,114.97L645.9,115.00L646.9,115.02L647.9,115.04L648.9,115.06L649.9,115.08L650.9,115.10L651.9,115.12L652.9,115.14L653.9,115.16L654.9,115.18L655.9,115.21L656.9,115.23L657.9,115.25L658.9,115.27L659.9,115.29L660.9,115.31L661.9,115.33L662.9,115.35L663.9,115.38L664.9,115.40L665.9,115.42L666.0,115.42" fill="none" stroke="#1010f0" stroke-width="1.90" stroke-linejoin="round"/>
<path d="M383.9,137.15L384.9,137.18L385.9,137.22L386.9,137.26L387.9,137.30L388.9,137.34L389.9,137.38L390.9,137.42L391.9,137.46L392.9,137.50L393.9,137.54L394.9,137.58L395.9,137.61L396.9,137.65L397.9,137.69L398.9,137.73L399.9,137.77L400.9,137.81L401.9,137.85L402.9,137.89L403.9,137.93L404.9,137.97L405.9,138.01L406.9,138.05L407.9,138.08L408.9,138.12L409.9,138.16L410.9,138.20L411.9,138.24L412.9,138.28L413.9,138.32L414.9,138.36L415.9,138.40L416.9,138.44L417.9,138.48L418.9,138.51L419.9,138.55L420.9,138.59L421.9,138.63L422.9,138.67L423.9,138.71L424.9,138.75L425.9,138.79L426.9,138.83L427.9,138.87L428.9,138.91L429.9,138.95L430.9,138.99L431.9,139.02L432.9,139.06L433.9,139.10L434.9,139.14L435.9,139.18L436.9,139.22L437.9,139.26L438.9,139.30L439.9,139.34L440.9,139.38L441.9,139.42L442.9,139.46L443.9,139.50L444.9,139.53L445.9,139.57L446.9,139.61L447.9,139.65L448.9,139.69L449.9,139.73L450.9,139.77L451.9,139.81L452.9,139.85L453.9,139.89L454.9,139.93L455.9,139.97L456.9,140.01L457.9,140.05L458.9,140.09L459.9,140.13L460.9,140.17L461.9,140.21L462.9,140.25L463.9,140.29L464.9,140.32L465.9,140.36L466.9,140.40L467.9,140.44L468.9,140.48L469.9,140.52L470.9,140.56L471.9,140.60L472.9,140.64L473.9,140.68L474.9,140.72L475.9,140.76L476.9,140.80L477.9,140.84L478.9,140.89L479.9,140.93L480.9,140.97L481.9,141.01L482.9,141.05L483.9,141.09L484.9,141.13L485.9,141.17L486.9,141.21L487.9,141.25L488.9,141.29L489.9,141.33L490.9,141.38L491.9,141.42L492.9,141.46L493.9,141.50L494.9,141.54L495.9,141.58L496.9,141.63L497.9,141.67L498.9,141.71L499.9,141.75L500.9,141.80L501.9,141.84L502.9,141.88L503.9,141.93L504.9,141.97L505.9,142.02L506.9,142.06L507.9,142.11L508.9,142.15L509.9,142.20L510.9,142.24L511.9,142.29L512.9,142.33L513.9,142.38L514.9,142.43L515.9,142.47L516.9,142.52L517.9,142.57L518.9,142.62L519.9,142.67L520.9,142.72L521.9,142.77L522.9,142.82L523.9,142.87L524.9,142.93L525.9,142.98L526.9,143.03L527.9,143.09L528.9,143.14L529.9,143.20L530.9,143.26L531.9,143.32L532.9,143.37L533.9,143.44L534.9,143.50L535.9,143.56L536.9,143.62L537.9,143.69L538.9,143.76L539.9,143.82L540.9,143.89L541.9,143.96L542.9,144.04L543.9,144.11L544.9,144.19L545.9,144.27L546.9,144.35L547.9,144.43L548.9,144.52L549.9,144.60L550.9,144.69L551.9,144.79L552.9,144.88L553.9,144.98L554.9,145.08L555.9,145.19L556.9,145.30L557.9,145.41L558.9,145.53L559.9,145.65L560.9,145.77L561.9,145.90L562.9,146.03L563.9,146.17L564.9,146.32L565.9,146.47L566.9,146.62L567.9,146.78L568.9,146.95L569.9,147.13L570.9,147.31L571.9,147.50L572.9,147.69L573.9,147.90L574.9,148.12L575.9,148.34L576.9,148.58L577.9,148.84L578.9,149.11L579.9,149.40L580.9,149.71L581.9,150.05L582.9,150.43L583.9,150.86L584.9,151.34L585.9,151.89L586.9,152.52L587.9,153.24L588.9,154.06L589.9,154.99L590.9,156.04L591.9,157.20L592.9,158.46L593.9,159.80L594.9,161.20L595.9,162.61L596.9,163.99L597.9,165.28L598.9,166.43L599.9,167.40L600.9,168.14L601.9,168.60L602.9,168.73L603.9,168.64L604.9,168.37L605.9,167.69L606.9,166.45L607.9,164.55L608.9,162.03L609.9,159.04L610.9,155.85L611.9,152.76L612.9,150.05L613.9,147.91L614.9,146.40L615.9,145.45L616.9,144.92L617.9,144.66L618.9,144.56L619.9,144.53L620.9,144.54L621.9,144.55L622.9,144.57L623.9,144.59L624.9,144.61L625.9,144.63L626.9,144.65L627.9,144.67L628.9,144.69L629.9,144.71L630.9,144.73L631.9,144.75L632.9,144.76L633.9,144.78L634.9,144.80L635.9,144.82L636.9,144.84L637.9,144.86L638.9,144.88L639.9,144.90L640.9,144.92L641.9,144.94L642.9,144.96L643.9,144.98L644.9,145.00L645.9,145.02L646.9,145.04L647.9,145.06L648.9,145.08L649.9,145.10L650.9,145.12L651.9,145.14L652.9,145.15L653.9,145.17L654.9,145.19L655.9,145.21L656.9,145.23L657.9,145.25L658.9,145.27L659.9,145.29L660.9,145.31L661.9,145.33L662.9,145.35L663.9,145.37L664.9,145.39L665.9,145.41L666.0,145.41" fill="none" stroke="#10fcfc" stroke-width="1.90" stroke-linejoin="round"/>
<path d="M383.9,163.47L384.9,163.50L385.9,163.54L386.9,163.57L387.9,163.60L388.9,163.64L389.9,163.67L390.9,163.70L391.9,163.74L392.9,163.77L393.9,163.80L394.9,163.83L395.9,163.87L396.9,163.90L397.9,163.93L398.9,163.97L399.9,164.00L400.9,164.03L401.9,164.07L402.9,164.10L403.9,164.13L404.9,164.17L405.9,164.20L406.9,164.23L407.9,164.27L408.9,164.30L409.9,164.33L410.9,164.37L411.9,164.40L412.9,164.43L413.9,164.47L414.9,164.50L415.9,164.53L416.9,164.57L417.9,164.60L418.9,164.63L419.9,164.67L420.9,164.70L421.9,164.73L422.9,164.77L423.9,164.80L424.9,164.83L425.9,164.87L426.9,164.90L427.9,164.93L428.9,164.97L429.9,165.00L430.9,165.03L431.9,165.07L432.9,165.10L433.9,165.13L434.9,165.17L435.9,165.20L436.9,165.23L437.9,165.27L438.9,165.30L439.9,165.33L440.9,165.37L441.9,165.40L442.9,165.43L443.9,165.47L444.9,165.50L445.9,165.53L446.9,165.57L447.9,165.60L448.9,165.64L449.9,165.67L450.9,165.70L451.9,165.74L452.9,165.77L453.9,165.80L454.9,165.84L455.9,165.87L456.9,165.91L457.9,165.94L458.9,165.97L459.9,166.01L460.9,166.04L461.9,166.08L462.9,166.11L463.9,166.14L464.9,166.18L465.9,166.21L466.9,166.25L467.9,166.28L468.9,166.32L469.9,166.35L470.9,166.39L471.9,166.42L472.9,166.45L473.9,166.49L474.9,166.52L475.9,166.56L476.9,166.59L477.9,166.63L478.9,166.66L479.9,166.70L480.9,166.74L481.9,166.77L482.9,166.81L483.9,166.84L484.9,166.88L485.9,166.91L486.9,166.95L487.9,166.99L488.9,167.02L489.9,167.06L490.9,167.09L491.9,167.13L492.9,167.17L493.9,167.21L494.9,167.24L495.9,167.28L496.9,167.32L497.9,167.36L498.9,167.39L499.9,167.43L500.9,167.47L501.9,167.51L502.9,167.55L503.9,167.59L504.9,167.63L505.9,167.67L506.9,167.71L507.9,167.75L508.9,167.79L509.9,167.83L510.9,167.87L511.9,167.91L512.9,167.95L513.9,168.00L514.9,168.04L515.9,168.08L516.9,168.13L517.9,168.17L518.9,168.22L519.9,168.26L520.9,168.31L521.9,168.35L522.9,168.40L523.9,168.45L524.9,168.50L525.9,168.54L526.9,168.59L527.9,168.64L528.9,168.70L529.9,168.75L530.9,168.80L531.9,168.85L532.9,168.91L533.9,168.96L534.9,169.02L535.9,169.08L536.9,169.14L537.9,169.20L538.9,169.26L539.9,169.32L540.9,169.38L541.9,169.45L542.9,169.51L543.9,169.58L544.9,169.65L545.9,169.72L546.9,169.79L547.9,169.87L548.9,169.94L549.9,170.02L550.9,170.10L551.9,170.18L552.9,170.27L553.9,170.35L554.9,170.44L555.9,170.53L556.9,170.63L557.9,170.73L558.9,170.82L559.9,170.93L560.9,171.03L561.9,171.14L562.9,171.25L563.9,171.37L564.9,171.49L565.9,171.61L566.9,171.74L567.9,171.87L568.9,172.00L569.9,172.14L570.9,172.28L571.9,172.43L572.9,172.59L573.9,172.75L574.9,172.91L575.9,173.09L576.9,173.27L577.9,173.45L578.9,173.65L579.9,173.86L580.9,174.09L581.9,174.34L582.9,174.61L583.9,174.92L584.9,175.27L585.9,175.67L586.9,176.14L587.9,176.70L588.9,177.34L589.9,178.09L590.9,178.95L591.9,179.94L592.9,181.04L593.9,182.26L594.9,183.56L595.9,184.92L596.9,186.30L597.9,187.64L598.9,188.90L599.9,190.01L600.9,190.90L601.9,191.53L602.9,191.83L603.9,191.85L604.9,191.59L605.9,190.85L606.9,189.53L607.9,187.60L608.9,185.16L609.9,182.42L610.9,179.63L611.9,177.03L612.9,174.81L613.9,173.04L614.9,171.72L615.9,170.76L616.9,170.09L617.9,169.63L618.9,169.32L619.9,169.12L620.9,168.99L621.9,168.92L622.9,168.88L623.9,168.86L624.9,168.85L625.9,168.85L626.9,168.86L627.9,168.87L628.9,168.88L629.9,168.90L630.9,168.91L631.9,168.93L632.9,168.94L633.9,168.96L634.9,168.97L635.9,168.99L636.9,169.01L637.9,169.02L638.9,169.04L639.9,169.05L640.9,169.07L641.9,169.09L642.9,169.10L643.9,169.12L644.9,169.13L645.9,169.15L646.9,169.16L647.9,169.18L648.9,169.20L649.9,169.21L650.9,169.23L651.9,169.24L652.9,169.26L653.9,169.28L654.9,169.29L655.9,169.31L656.9,169.32L657.9,169.34L658.9,169.35L659.9,169.37L660.9,169.39L661.9,169.40L662.9,169.42L663.9,169.43L664.9,169.45L665.9,169.46L666.0,169.47" fill="none" stroke="#10ff10" stroke-width="1.90" stroke-linejoin="round"/>
<path d="M383.9,186.53L384.9,186.56L385.9,186.59L386.9,186.63L387.9,186.66L388.9,186.70L389.9,186.73L390.9,186.77L391.9,186.80L392.9,186.84L393.9,186.87L394.9,186.91L395.9,186.94L396.9,186.98L397.9,187.01L398.9,187.05L399.9,187.08L400.9,187.12L401.9,187.15L402.9,187.19L403.9,187.22L404.9,187.26L405.9,187.29L406.9,187.33L407.9,187.36L408.9,187.40L409.9,187.43L410.9,187.47L411.9,187.50L412.9,187.54L413.9,187.57L414.9,187.61L415.9,187.64L416.9,187.68L417.9,187.71L418.9,187.75L419.9,187.78L420.9,187.82L421.9,187.85L422.9,187.89L423.9,187.92L424.9,187.96L425.9,188.00L426.9,188.03L427.9,188.07L428.9,188.10L429.9,188.14L430.9,188.17L431.9,188.21L432.9,188.25L433.9,188.28L434.9,188.32L435.9,188.35L436.9,188.39L437.9,188.43L438.9,188.46L439.9,188.50L440.9,188.54L441.9,188.57L442.9,188.61L443.9,188.65L444.9,188.68L445.9,188.72L446.9,188.76L447.9,188.79L448.9,188.83L449.9,188.87L450.9,188.90L451.9,188.94L452.9,188.98L453.9,189.02L454.9,189.05L455.9,189.09L456.9,189.13L457.9,189.17L458.9,189.21L459.9,189.24L460.9,189.28L461.9,189.32L462.9,189.36L463.9,189.40L464.9,189.44L465.9,189.48L466.9,189.52L467.9,189.55L468.9,189.59L469.9,189.63L470.9,189.67L471.9,189.71L472.9,189.75L473.9,189.79L474.9,189.84L475.9,189.88L476.9,189.92L477.9,189.96L478.9,190.00L479.9,190.04L480.9,190.08L481.9,190.13L482.9,190.17L483.9,190.21L484.9,190.25L485.9,190.30L486.9,190.34L487.9,190.39L488.9,190.43L489.9,190.47L490.9,190.52L491.9,190.56L492.9,190.61L493.9,190.66L494.9,190.70L495.9,190.75L496.9,190.80L497.9,190.84L498.9,190.89L499.9,190.94L500.9,190.99L501.9,191.04L502.9,191.09L503.9,191.14L504.9,191.19L505.9,191.24L506.9,191.29L507.9,191.34L508.9,191.40L509.9,191.45L510.9,191.50L511.9,191.56L512.9,191.61L513.9,191.67L514.9,191.73L515.9,191.78L516.9,191.84L517.9,191.90L518.9,191.96L519.9,192.02L520.9,192.08L521.9,192.15L522.9,192.21L523.9,192.27L524.9,192.34L525.9,192.40L526.9,192.47L527.9,192.54L528.9,192.61L529.9,192.68L530.9,192.75L531.9,192.82L532.9,192.90L533.9,192.97L534.9,193.05L535.9,193.13L536.9,193.21L537.9,193.29L538.9,193.37L539.9,193.45L540.9,193.54L541.9,193.62L542.9,193.71L543.9,193.80L544.9,193.89L545.9,193.99L546.9,194.08L547.9,194.18L548.9,194.28L549.9,194.38L550.9,194.49L551.9,194.59L552.9,194.70L553.9,194.81L554.9,194.93L555.9,195.04L556.9,195.16L557.9,195.28L558.9,195.41L559.9,195.53L560.9,195.66L561.9,195.79L562.9,195.93L563.9,196.07L564.9,196.21L565.9,196.36L566.9,196.51L567.9,196.66L568.9,196.82L569.9,196.98L570.9,197.14L571.9,197.31L572.9,197.48L573.9,197.66L574.9,197.84L575.9,198.02L576.9,198.21L577.9,198.41L578.9,198.61L579.9,198.82L580.9,199.03L581.9,199.25L582.9,199.49L583.9,199.74L584.9,200.01L585.9,200.32L586.9,200.68L587.9,201.11L588.9,201.65L589.9,202.31L590.9,203.13L591.9,204.16L592.9,205.41L593.9,206.88L594.9,208.57L595.9,210.43L596.9,212.39L597.9,214.34L598.9,216.14L599.9,217.67L600.9,218.78L601.9,219.36L602.9,219.41L603.9,218.99L604.9,217.90L605.9,216.07L606.9,213.56L607.9,210.56L608.9,207.33L609.9,204.16L610.9,201.30L611.9,198.92L612.9,197.10L613.9,195.82L614.9,194.99L615.9,194.49L616.9,194.23L617.9,194.10L618.9,194.06L619.9,194.05L620.9,194.06L621.9,194.08L622.9,194.10L623.9,194.12L624.9,194.14L625.9,194.16L626.9,194.18L627.9,194.20L628.9,194.23L629.9,194.25L630.9,194.27L631.9,194.29L632.9,194.31L633.9,194.33L634.9,194.36L635.9,194.38L636.9,194.40L637.9,194.42L638.9,194.44L639.9,194.46L640.9,194.49L641.9,194.51L642.9,194.53L643.9,194.55L644.9,194.57L645.9,194.59L646.9,194.62L647.9,194.64L648.9,194.66L649.9,194.68L650.9,194.70L651.9,194.72L652.9,194.75L653.9,194.77L654.9,194.79L655.9,194.81L656.9,194.83L657.9,194.85L658.9,194.88L659.9,194.90L660.9,194.92L661.9,194.94L662.9,194.96L663.9,194.98L664.9,195.01L665.9,195.03L666.0,195.03" fill="none" stroke="#ff1414" stroke-width="1.90" stroke-linejoin="round"/>
<path d="M383.9,216.05L384.9,216.13L385.9,216.21L386.9,216.29L387.9,216.38L388.9,216.46L389.9,216.54L390.9,216.63L391.9,216.71L392.9,216.79L393.9,216.88L394.9,216.96L395.9,217.04L396.9,217.13L397.9,217.21L398.9,217.30L399.9,217.38L400.9,217.47L401.9,217.55L402.9,217.64L403.9,217.72L404.9,217.81L405.9,217.89L406.9,217.98L407.9,218.07L408.9,218.16L409.9,218.24L410.9,218.33L411.9,218.42L412.9,218.51L413.9,218.60L414.9,218.69L415.9,218.79L416.9,218.88L417.9,218.97L418.9,219.07L419.9,219.16L420.9,219.26L421.9,219.36L422.9,219.46L423.9,219.56L424.9,219.67L425.9,219.77L426.9,219.88L427.9,219.99L428.9,220.10L429.9,220.21L430.9,220.33L431.9,220.45L432.9,220.58L433.9,220.70L434.9,220.84L435.9,220.97L436.9,221.11L437.9,221.26L438.9,221.41L439.9,221.56L440.9,221.73L441.9,221.89L442.9,222.07L443.9,222.26L444.9,222.45L445.9,222.65L446.9,222.87L447.9,223.09L448.9,223.33L449.9,223.58L450.9,223.84L451.9,224.12L452.9,224.42L453.9,224.73L454.9,225.07L455.9,225.42L456.9,225.80L457.9,226.20L458.9,226.63L459.9,227.08L460.9,227.56L461.9,228.08L462.9,228.63L463.9,229.21L464.9,229.83L465.9,230.49L466.9,231.20L467.9,231.94L468.9,232.72L469.9,233.55L470.9,234.42L471.9,235.32L472.9,236.26L473.9,237.22L474.9,238.21L475.9,239.21L476.9,240.23L477.9,241.25L478.9,242.17L479.9,242.84L480.9,243.05L481.9,242.26L482.9,238.98L483.9,234.03L484.9,228.84L485.9,224.50L486.9,221.46L487.9,219.62L488.9,218.61L489.9,218.07L490.9,217.78L491.9,217.59L492.9,217.47L493.9,217.37L494.9,217.31L495.9,217.26L496.9,217.23L497.9,217.21L498.9,217.20L499.9,217.20L500.9,217.21L501.9,217.23L502.9,217.25L503.9,217.27L504.9,217.30L505.9,217.32L506.9,217.36L507.9,217.39L508.9,217.42L509.9,217.46L510.9,217.49L511.9,217.53L512.9,217.57L513.9,217.60L514.9,217.64L515.9,217.68L516.9,217.72L517.9,217.76L518.9,217.79L519.9,217.83L520.9,217.87L521.9,217.91L522.9,217.95L523.9,217.99L524.9,218.03L525.9,218.06L526.9,218.10L527.9,218.14L528.9,218.18L529.9,218.22L530.9,218.26L531.9,218.30L532.9,218.34L533.9,218.38L534.9,218.41L535.9,218.45L536.9,218.49L537.9,218.53L538.9,218.57L539.9,218.61L540.9,218.65L541.9,218.69L542.9,218.73L543.9,218.76L544.9,218.80L545.9,218.84L546.9,218.88L547.9,218.92L548.9,218.96L549.9,219.00L550.9,219.04L551.9,219.08L552.9,219.11L553.9,219.15L554.9,219.19L555.9,219.23L556.9,219.27L557.9,219.31L558.9,219.35L559.9,219.39L560.9,219.42L561.9,219.46L562.9,219.50L563.9,219.54L564.9,219.58L565.9,219.62L566.9,219.66L567.9,219.70L568.9,219.74L569.9,219.77L570.9,219.81L571.9,219.85L572.9,219.89L573.9,219.93L574.9,219.97L575.9,220.01L576.9,220.05L577.9,220.09L578.9,220.12L579.9,220.16L580.9,220.20L581.9,220.24L582.9,220.28L583.9,220.32L584.9,220.36L585.9,220.40L586.9,220.44L587.9,220.47L588.9,220.51L589.9,220.55L590.9,220.59L591.9,220.63L592.9,220.67L593.9,220.71L594.9,220.75L595.9,220.79L596.9,220.82L597.9,220.86L598.9,220.90L599.9,220.94L600.9,220.98L601.9,221.02L602.9,221.06L603.9,221.10L604.9,221.14L605.9,221.17L606.9,221.21L607.9,221.25L608.9,221.29L609.9,221.33L610.9,221.37L611.9,221.41L612.9,221.45L613.9,221.49L614.9,221.52L615.9,221.56L616.9,221.60L617.9,221.64L618.9,221.68L619.9,221.72L620.9,221.76L621.9,221.80L622.9,221.83L623.9,221.87L624.9,221.91L625.9,221.95L626.9,221.99L627.9,222.03L628.9,222.07L629.9,222.11L630.9,222.15L631.9,222.18L632.9,222.22L633.9,222.26L634.9,222.30L635.9,222.34L636.9,222.38L637.9,222.42L638.9,222.46L639.9,222.50L640.9,222.53L641.9,222.57L642.9,222.61L643.9,222.65L644.9,222.69L645.9,222.73L646.9,222.77L647.9,222.81L648.9,222.85L649.9,222.88L650.9,222.92L651.9,222.96L652.9,223.00L653.9,223.04L654.9,223.08L655.9,223.12L656.9,223.16L657.9,223.20L658.9,223.23L659.9,223.27L660.9,223.31L661.9,223.35L662.9,223.39L663.9,223.43L664.9,223.47L665.9,223.51L666.0,223.51" fill="none" stroke="#141414" stroke-width="1.90" stroke-linejoin="round"/>
<rect x="382.70" y="33.90" width="287.90" height="213.80" fill="none" stroke="#000" stroke-width="2.5"/>
<line x1="382.70" y1="247.70" x2="382.70" y2="250.50" stroke="#000" stroke-width="2"/>
<line x1="401.89" y1="247.70" x2="401.89" y2="251.30" stroke="#000" stroke-width="2"/>
<text class="a" x="392.66" y="265.70" style="font-size:16.6px">6</text><text class="a" x="401.89" y="265.70" style="font-size:16.6px">0</text>
<line x1="421.09" y1="247.70" x2="421.09" y2="250.50" stroke="#000" stroke-width="2"/>
<line x1="440.28" y1="247.70" x2="440.28" y2="251.30" stroke="#000" stroke-width="2"/>
<text class="a" x="431.05" y="265.70" style="font-size:16.6px">8</text><text class="a" x="440.28" y="265.70" style="font-size:16.6px">0</text>
<line x1="459.47" y1="247.70" x2="459.47" y2="250.50" stroke="#000" stroke-width="2"/>
<line x1="478.67" y1="247.70" x2="478.67" y2="251.30" stroke="#000" stroke-width="2"/>
<path d="M471.01,265.70 L469.55,265.70 L469.55,256.40 L469.02,256.91 L468.39,257.30 L467.50,257.82 L466.62,258.16 L466.62,256.75 L467.50,256.30 L468.31,255.73 L469.04,255.08 L469.69,254.35 L470.06,253.77 L471.01,253.77 Z" fill="#1c1c1c" stroke="#1c1c1c" stroke-width="0.4"/><text class="a" x="474.05" y="265.70" style="font-size:16.6px">0</text><text class="a" x="483.28" y="265.70" style="font-size:16.6px">0</text>
<line x1="497.86" y1="247.70" x2="497.86" y2="250.50" stroke="#000" stroke-width="2"/>
<line x1="517.05" y1="247.70" x2="517.05" y2="251.30" stroke="#000" stroke-width="2"/>
<path d="M509.39,265.70 L507.93,265.70 L507.93,256.40 L507.41,256.91 L506.78,257.30 L505.88,257.82 L505.01,258.16 L505.01,256.75 L505.88,256.30 L506.69,255.73 L507.42,255.08 L508.07,254.35 L508.45,253.77 L509.39,253.77 Z" fill="#1c1c1c" stroke="#1c1c1c" stroke-width="0.4"/><text class="a" x="512.44" y="265.70" style="font-size:16.6px">2</text><text class="a" x="521.67" y="265.70" style="font-size:16.6px">0</text>
<line x1="536.25" y1="247.70" x2="536.25" y2="250.50" stroke="#000" stroke-width="2"/>
<line x1="555.44" y1="247.70" x2="555.44" y2="251.30" stroke="#000" stroke-width="2"/>
<path d="M547.78,265.70 L546.32,265.70 L546.32,256.40 L545.79,256.91 L545.16,257.30 L544.27,257.82 L543.40,258.16 L543.40,256.75 L544.27,256.30 L545.08,255.73 L545.81,255.08 L546.46,254.35 L546.83,253.77 L547.78,253.77 Z" fill="#1c1c1c" stroke="#1c1c1c" stroke-width="0.4"/><text class="a" x="550.83" y="265.70" style="font-size:16.6px">4</text><text class="a" x="560.05" y="265.70" style="font-size:16.6px">0</text>
<line x1="574.63" y1="247.70" x2="574.63" y2="250.50" stroke="#000" stroke-width="2"/>
<line x1="593.83" y1="247.70" x2="593.83" y2="251.30" stroke="#000" stroke-width="2"/>
<path d="M586.17,265.70 L584.71,265.70 L584.71,256.40 L584.18,256.91 L583.55,257.30 L582.66,257.82 L581.78,258.16 L581.78,256.75 L582.66,256.30 L583.47,255.73 L584.20,255.08 L584.85,254.35 L585.22,253.77 L586.17,253.77 Z" fill="#1c1c1c" stroke="#1c1c1c" stroke-width="0.4"/><text class="a" x="589.21" y="265.70" style="font-size:16.6px">6</text><text class="a" x="598.44" y="265.70" style="font-size:16.6px">0</text>
<line x1="613.02" y1="247.70" x2="613.02" y2="250.50" stroke="#000" stroke-width="2"/>
<line x1="632.21" y1="247.70" x2="632.21" y2="251.30" stroke="#000" stroke-width="2"/>
<path d="M624.55,265.70 L623.09,265.70 L623.09,256.40 L622.57,256.91 L621.94,257.30 L621.04,257.82 L620.17,258.16 L620.17,256.75 L621.04,256.30 L621.85,255.73 L622.58,255.08 L623.23,254.35 L623.61,253.77 L624.55,253.77 Z" fill="#1c1c1c" stroke="#1c1c1c" stroke-width="0.4"/><text class="a" x="627.60" y="265.70" style="font-size:16.6px">8</text><text class="a" x="636.83" y="265.70" style="font-size:16.6px">0</text>
<line x1="651.41" y1="247.70" x2="651.41" y2="250.50" stroke="#000" stroke-width="2"/>
<line x1="670.60" y1="247.70" x2="670.60" y2="251.30" stroke="#000" stroke-width="2"/>
<text class="a" x="656.76" y="265.70" style="font-size:16.6px">2</text><text class="a" x="665.99" y="265.70" style="font-size:16.6px">0</text><text class="a" x="675.21" y="265.70" style="font-size:16.6px">0</text>
<text x="385.87" y="49.80" style="font-size:13.60px" textLength="59.45" lengthAdjust="spacingAndGlyphs">Tm=163.99</text>
<circle cx="450.90" cy="41.40" r="0.85" fill="none" stroke="#1c1c1c" stroke-width="0.75"/><path d="M459.28,41.90 A3.90,4.35 0 1 0 459.28,47.50" fill="none" stroke="#1c1c1c" stroke-width="1.05"/>
<text x="481.53" y="49.80" style="font-size:13.60px" textLength="79.55" lengthAdjust="spacingAndGlyphs"><tspan font-style="italic">&#916;Hm</tspan>=55.83 <tspan font-style="italic">j/g</tspan></text>
<text x="385.87" y="75.00" style="font-size:13.60px" textLength="59.63" lengthAdjust="spacingAndGlyphs">Tm=164.12</text>
<circle cx="450.90" cy="66.60" r="0.85" fill="none" stroke="#1c1c1c" stroke-width="0.75"/><path d="M459.28,67.10 A3.90,4.35 0 1 0 459.28,72.70" fill="none" stroke="#1c1c1c" stroke-width="1.05"/>
<text x="481.53" y="75.00" style="font-size:13.60px" textLength="79.55" lengthAdjust="spacingAndGlyphs"><tspan font-style="italic">&#916;Hm</tspan>=55.49 <tspan font-style="italic">j/g</tspan></text>
<text x="385.87" y="103.30" style="font-size:13.60px" textLength="59.63" lengthAdjust="spacingAndGlyphs">Tm=164.42</text>
<circle cx="450.90" cy="94.90" r="0.85" fill="none" stroke="#1c1c1c" stroke-width="0.75"/><path d="M459.28,95.40 A3.90,4.35 0 1 0 459.28,101.00" fill="none" stroke="#1c1c1c" stroke-width="1.05"/>
<text x="481.53" y="103.30" style="font-size:13.60px" textLength="79.55" lengthAdjust="spacingAndGlyphs"><tspan font-style="italic">&#916;Hm</tspan>=56.68 <tspan font-style="italic">j/g</tspan></text>
<text x="385.87" y="129.80" style="font-size:13.60px" textLength="59.30" lengthAdjust="spacingAndGlyphs">Tm=164.86</text>
<circle cx="450.90" cy="121.40" r="0.85" fill="none" stroke="#1c1c1c" stroke-width="0.75"/><path d="M459.28,121.90 A3.90,4.35 0 1 0 459.28,127.50" fill="none" stroke="#1c1c1c" stroke-width="1.05"/>
<text x="481.53" y="129.80" style="font-size:13.60px" textLength="79.55" lengthAdjust="spacingAndGlyphs"><tspan font-style="italic">&#916;Hm</tspan>=55.98 <tspan font-style="italic">j/g</tspan></text>
<text x="385.87" y="155.80" style="font-size:13.60px" textLength="59.30" lengthAdjust="spacingAndGlyphs">Tm=164.36</text>
<circle cx="450.90" cy="147.40" r="0.85" fill="none" stroke="#1c1c1c" stroke-width="0.75"/><path d="M459.28,147.90 A3.90,4.35 0 1 0 459.28,153.50" fill="none" stroke="#1c1c1c" stroke-width="1.05"/>
<text x="481.53" y="155.80" style="font-size:13.60px" textLength="79.55" lengthAdjust="spacingAndGlyphs"><tspan font-style="italic">&#916;Hm</tspan>=55.49 <tspan font-style="italic">j/g</tspan></text>
<text x="385.87" y="180.80" style="font-size:13.60px" textLength="59.42" lengthAdjust="spacingAndGlyphs">Tm=163.93</text>
<circle cx="450.90" cy="172.40" r="0.85" fill="none" stroke="#1c1c1c" stroke-width="0.75"/><path d="M459.28,172.90 A3.90,4.35 0 1 0 459.28,178.50" fill="none" stroke="#1c1c1c" stroke-width="1.05"/>
<text x="481.53" y="180.80" style="font-size:13.60px" textLength="79.55" lengthAdjust="spacingAndGlyphs"><tspan font-style="italic">&#916;Hm</tspan>=55.35 <tspan font-style="italic">j/g</tspan></text>
<text x="385.87" y="207.80" style="font-size:13.60px" textLength="59.30" lengthAdjust="spacingAndGlyphs">Tm=101.56</text>
<circle cx="450.90" cy="199.40" r="0.85" fill="none" stroke="#1c1c1c" stroke-width="0.75"/><path d="M459.28,199.90 A3.90,4.35 0 1 0 459.28,205.50" fill="none" stroke="#1c1c1c" stroke-width="1.05"/>
<text x="481.53" y="207.80" style="font-size:13.60px" textLength="79.55" lengthAdjust="spacingAndGlyphs"><tspan font-style="italic">&#916;Hm</tspan>=55.68 <tspan font-style="italic">j/g</tspan></text>
<text x="616.53" y="51.00" style="font-size:13.60px" textLength="43.26" lengthAdjust="spacingAndGlyphs">PMC 10</text>
<text x="616.53" y="79.80" style="font-size:13.60px" textLength="36.43" lengthAdjust="spacingAndGlyphs">PMC 7</text>
<text x="616.73" y="105.80" style="font-size:13.60px" textLength="36.36" lengthAdjust="spacingAndGlyphs">PMC 5</text>
<text x="616.53" y="133.20" style="font-size:13.60px" textLength="36.57" lengthAdjust="spacingAndGlyphs">PMC 3</text>
<text x="616.55" y="160.20" style="font-size:13.60px" textLength="35.19" lengthAdjust="spacingAndGlyphs">PMC 1</text>
<text x="616.74" y="184.60" style="font-size:13.60px" textLength="25.23" lengthAdjust="spacingAndGlyphs">PPM</text>
<text x="616.62" y="211.40" style="font-size:13.60px" textLength="32.23" lengthAdjust="spacingAndGlyphs">XLPE</text>
<text class="t" x="480.91" y="288.70" style="font-size:16.50px" textLength="83.06" lengthAdjust="spacingAndGlyphs">Temperature</text>
<text class="t" x="568.23" y="288.70" style="font-size:16.50px" textLength="5.83" lengthAdjust="spacingAndGlyphs">(</text>
<circle cx="576.70" cy="278.30" r="0.90" fill="none" stroke="#1c1c1c" stroke-width="0.90"/><path d="M587.78,279.60 A5.00,5.20 0 1 0 587.78,286.40" fill="none" stroke="#1c1c1c" stroke-width="1.20"/>
<text class="t" x="590.89" y="288.70" style="font-size:16.50px" textLength="5.32" lengthAdjust="spacingAndGlyphs">)</text>
<line x1="363.90" y1="80.00" x2="363.90" y2="51.60" stroke="#111" stroke-width="1.3"/>
<path d="M363.90,46.60 L361.70,53.10 L366.10,53.10 Z" fill="#111"/>
<text transform="translate(367.40,0) rotate(-90)" class="t" x="-238.78" y="0.00" style="font-size:16.50px" textLength="139.81" lengthAdjust="spacingAndGlyphs">Endo Heat flow (J/g)</text>
</svg></body></html>
